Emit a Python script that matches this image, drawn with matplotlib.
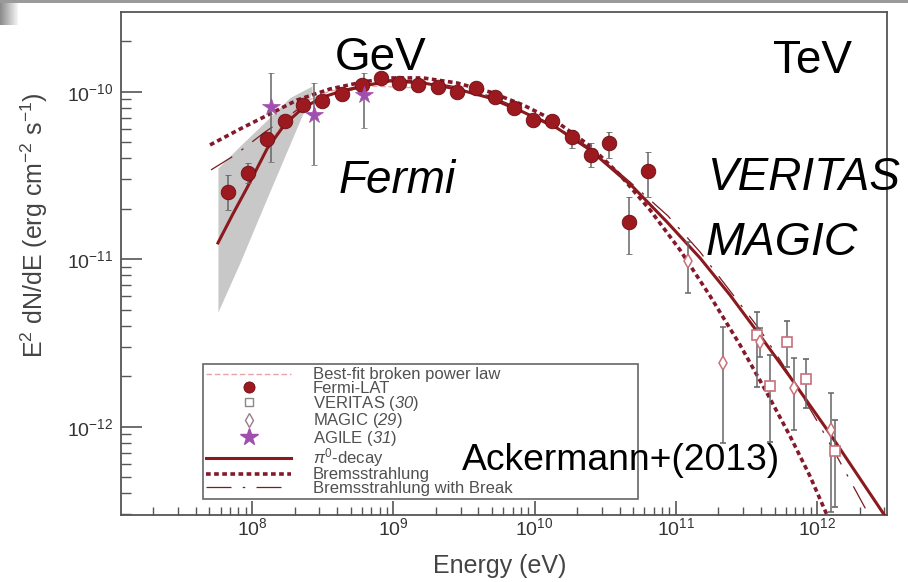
import numpy as np
import matplotlib
matplotlib.use("Agg")
import matplotlib.pyplot as plt
from matplotlib.lines import Line2D
from matplotlib.patches import Rectangle
from matplotlib.ticker import LogLocator, NullFormatter

plt.rcParams['font.family'] = ['Liberation Sans', 'DejaVu Sans']
plt.rcParams['mathtext.fontset'] = 'custom'
plt.rcParams['mathtext.rm'] = 'Liberation Sans'
plt.rcParams['mathtext.it'] = 'Liberation Sans:italic'
# \mathsf is used for the italic reference numbers in the legend
plt.rcParams['mathtext.sf'] = 'Liberation Sans:italic'

# Fermi-LAT spectral points (E in eV, E^2 dN/dE in erg cm^-2 s^-1)
fermi_e = [6.79e7, 9.42e7, 1.27e8, 1.71e8, 2.31e8, 3.15e8, 4.32e8, 5.98e8, 8.15e8,
           1.10e9, 1.50e9, 2.06e9, 2.81e9, 3.83e9, 5.25e9, 7.16e9, 9.71e9,
           1.34e10, 1.83e10, 2.51e10, 3.37e10, 4.69e10, 6.40e10]
fermi_f = [2.51e-11, 3.26e-11, 5.20e-11, 6.71e-11, 8.33e-11, 8.80e-11, 9.69e-11, 1.10e-10, 1.20e-10,
           1.12e-10, 1.10e-10, 1.07e-10, 1.00e-10, 1.05e-10, 9.26e-11, 7.96e-11, 6.78e-11,
           6.68e-11, 5.34e-11, 4.19e-11, 4.92e-11, 1.67e-11, 3.36e-11]
fermi_lo = [1.97e-11, 2.85e-11, 4.95e-11, 6.40e-11, 7.95e-11, 8.45e-11, 9.35e-11, 1.06e-10, 1.16e-10,
            1.08e-10, 1.06e-10, 1.03e-10, 9.60e-11, 1.00e-10, 8.80e-11, 7.50e-11, 6.30e-11,
            6.20e-11, 4.61e-11, 3.55e-11, 4.00e-11, 1.08e-11, 2.36e-11]
fermi_hi = [3.18e-11, 3.74e-11, 5.45e-11, 7.02e-11, 8.70e-11, 9.15e-11, 1.00e-10, 1.14e-10, 1.24e-10,
            1.16e-10, 1.14e-10, 1.11e-10, 1.04e-10, 1.10e-10, 9.70e-11, 8.40e-11, 7.30e-11,
            7.20e-11, 5.90e-11, 4.93e-11, 5.73e-11, 2.36e-11, 4.35e-11]

# AGILE
agile_e = [1.36e8, 2.75e8, 6.21e8]
agile_f = [8.07e-11, 7.26e-11, 9.55e-11]
agile_lo = [3.82e-11, 3.65e-11, 6.10e-11]
agile_hi = [1.29e-10, 1.12e-10, 1.30e-10]

# VERITAS
veritas_e = [3.73e11, 4.65e11, 6.10e11, 8.32e11, 1.35e12]
veritas_f = [3.52e-12, 1.75e-12, 3.21e-12, 1.92e-12, 7.19e-13]
veritas_lo = [1.73e-12, 8.13e-13, 2.28e-12, 1.29e-12, 3.33e-13]
veritas_hi = [4.82e-12, 2.68e-12, 4.30e-12, 2.54e-12, 1.10e-12]

# MAGIC
magic_e = [1.23e11, 2.17e11, 3.92e11, 6.90e11, 1.26e12]
magic_f = [9.82e-12, 2.39e-12, 3.21e-12, 1.71e-12, 9.55e-13]
magic_lo = [6.31e-12, 7.96e-13, 2.60e-12, 9.55e-13, 3.10e-13]
magic_hi = [1.26e-11, 3.95e-12, 3.90e-12, 2.56e-12, 1.58e-12]

# model curves, log10(E / eV) and log10(E^2 dN/dE)
pi0_loge = [7.759, 7.865, 7.972, 8.106, 8.234, 8.361, 8.503, 8.637, 8.786, 8.977, 9.211,
            9.451, 9.685, 9.918, 10.159, 10.393, 10.697, 10.938, 11.172, 11.384, 11.568,
            11.809, 12.092, 12.467, 12.496]
pi0_logf = [-10.903, -10.730, -10.563, -10.342, -10.193, -10.097, -10.032, -9.996, -9.966,
            -9.936, -9.948, -9.984, -10.038, -10.121, -10.217, -10.348, -10.569, -10.778,
            -10.993, -11.214, -11.423, -11.703, -12.043, -12.515, -12.552]

brems_loge = [7.703, 7.915, 8.127, 8.319, 8.552, 8.786, 8.977, 9.211, 9.451, 9.685, 9.918,
              10.159, 10.393, 10.605, 10.818, 11.030, 11.243, 11.455, 11.646, 11.809, 11.950,
              12.071, 12.106]
brems_logf = [-10.318, -10.223, -10.133, -10.050, -9.984, -9.942, -9.918, -9.918, -9.948,
              -10.002, -10.079, -10.181, -10.324, -10.497, -10.706, -10.945, -11.220, -11.512,
              -11.799, -12.056, -12.295, -12.528, -12.619]

brk_loge = [7.710, 7.880, 8.092, 8.361, 8.623, 8.977, 9.211, 9.451, 9.685, 9.918, 10.159,
            10.393, 10.676, 10.945, 11.172, 11.455, 11.597, 11.738, 11.880, 12.021, 12.163,
            12.283, 12.375]
brk_logf = [-10.467, -10.378, -10.241, -10.085, -10.008, -9.930, -9.936, -9.972, -10.026,
            -10.109, -10.211, -10.336, -10.539, -10.742, -10.957, -11.267, -11.423, -11.601,
            -11.793, -11.996, -12.211, -12.396, -12.539]

bpl_loge = [7.773, 7.986, 8.163, 8.340, 8.552, 8.835, 9.189]
bpl_logf = [-10.885, -10.527, -10.253, -10.073, -9.996, -9.966, -9.978]

# uncertainty band of the low-energy fit
band_loge = [7.759, 7.915, 8.092, 8.269, 8.425]
band_up = [-10.456, -10.324, -10.181, -10.035, -9.966]
band_dn = [-11.315, -11.020, -10.664, -10.312, -10.002]

x_ticks = [1e8, 1e9, 1e10, 1e11, 1e12]
y_ticks = [1e-12, 1e-11, 1e-10]

fermi_color = '#9c1a1f'
fermi_edge = '#6a0e12'
pi0_color = '#8b1a1f'
brems_color = '#85192c'
brk_color = '#7a1a22'
bpl_color = '#e9a3ab'
vhe_color = '#c9707a'
agile_color = '#a04fae'
err_color = '#666666'


def pw(v):
    return 10.0 ** np.asarray(v)


fig = plt.figure(figsize=(9.08, 5.82), dpi=100)
ax = fig.add_axes([0.1329, 0.1151, 0.8440, 0.8643])
ax.set_xscale('log')
ax.set_yscale('log')
ax.set_xlim(1.176e7, 3.13e12)
ax.set_ylim(2.97e-13, 2.99e-10)

ax.fill_between(pw(band_loge), pw(band_dn), pw(band_up), color='#c8c8c8', lw=0, zorder=1)

ax.plot(pw(bpl_loge), pw(bpl_logf), color=bpl_color, lw=1.0, ls=(0, (4, 2)), zorder=2)
ax.plot(pw(brk_loge), pw(brk_logf), color=brk_color, lw=0.9, ls=(0, (20, 9, 2, 9)), zorder=2)
ax.plot(pw(brems_loge), pw(brems_logf), color=brems_color, lw=2.6, ls=(0, (1.3, 0.95)),
        dash_capstyle='butt', zorder=3)
ax.plot(pw(pi0_loge), pw(pi0_logf), color=pi0_color, lw=2.2, zorder=3)


def draw_points(e, f, lo, hi, **kw):
    f = np.asarray(f)
    yerr = [f - np.asarray(lo), np.asarray(hi) - f]
    ax.errorbar(e, f, yerr=yerr, ls='none', ecolor=err_color, elinewidth=1.1,
                capsize=2.5, capthick=1.0, zorder=4, **kw)


draw_points(fermi_e, fermi_f, fermi_lo, fermi_hi, marker='o', ms=10.5,
            mfc=fermi_color, mec=fermi_edge, mew=0.6)
draw_points(veritas_e, veritas_f, veritas_lo, veritas_hi, marker='s', ms=7,
            mfc='white', mec=vhe_color, mew=1.2)
draw_points(magic_e, magic_f, magic_lo, magic_hi, marker='d', ms=7,
            mfc='white', mec=vhe_color, mew=1.1)
draw_points(agile_e, agile_f, agile_lo, agile_hi, marker='*', ms=13,
            mfc=agile_color, mec=agile_color, mew=0.5)

# axes styling
for sp in ax.spines.values():
    sp.set_color('#555555')
    sp.set_linewidth(1.3)
ax.set_xticks(x_ticks)
ax.set_yticks(y_ticks)
ax.xaxis.set_minor_locator(LogLocator(base=10, subs=np.arange(2, 10), numticks=40))
ax.yaxis.set_minor_locator(LogLocator(base=10, subs=np.arange(2, 10), numticks=40))
ax.xaxis.set_minor_formatter(NullFormatter())
ax.yaxis.set_minor_formatter(NullFormatter())
ax.tick_params(which='both', direction='in', top=False, right=False, color='#555555',
               labelcolor='#333333', labelsize=14)
ax.tick_params(axis='y', which='major', length=15, width=1.2, pad=5.5)
ax.tick_params(axis='y', which='minor', length=7, width=1.0)
ax.tick_params(axis='x', which='major', length=10, width=1.2, pad=1.5)
ax.tick_params(axis='x', which='minor', length=5.5, width=1.0)

ax.set_xlabel('Energy (eV)', fontsize=18, color='#444444')
ax.xaxis.set_label_coords(0.495, -0.078)
ax.set_ylabel('E$^2$ dN/dE (erg cm$^{-2}$ s$^{-1}$)', fontsize=18, color='#444444')
ax.yaxis.set_label_coords(-0.092, 0.577)

handles = [
    Line2D([], [], color=bpl_color, lw=1.0, ls=(0, (4, 2))),
    Line2D([], [], ls='none', marker='o', ms=8, mfc=fermi_color, mec=fermi_edge, mew=0.6),
    Line2D([], [], ls='none', marker='s', ms=6, mfc='white', mec='#888888', mew=1.0),
    Line2D([], [], ls='none', marker='d', ms=7, mfc='white', mec='#9a7a8a', mew=1.0),
    Line2D([], [], ls='none', marker='*', ms=13, mfc=agile_color, mec=agile_color),
    Line2D([], [], color=pi0_color, lw=2.2),
    Line2D([], [], color=brems_color, lw=2.6, ls=(0, (1.3, 0.95)), dash_capstyle='butt'),
    Line2D([], [], color=brk_color, lw=0.9, ls=(0, (20, 9, 2, 9))),
]
labels = [
    'Best-fit broken power law',
    'Fermi-LAT',
    r'VERITAS ($\mathsf{30}$)',
    r'MAGIC ($\mathsf{29}$)',
    r'AGILE ($\mathsf{31}$)',
    r'$\pi^0$-decay',
    'Bremsstrahlung',
    'Bremsstrahlung with Break',
]
leg = ax.legend(handles, labels, loc='lower left', mode='expand',
                bbox_to_anchor=(0.1074, 0.0318, 0.5676, 0.2724), borderaxespad=0,
                fontsize=12, labelcolor='#505050', borderpad=0.2, labelspacing=-0.1,
                handlelength=5.1, handletextpad=1.3, numpoints=1, fancybox=False,
                framealpha=1, edgecolor='#666666')
leg.get_frame().set_linewidth(1.2)
leg.set_zorder(10)

# slide annotations
W, H = 908.0, 582.0
fig.text(335 / W, 1 - 70 / H, 'GeV', fontsize=33, va='baseline')
fig.text(773 / W, 1 - 73 / H, 'TeV', fontsize=33, va='baseline')
fig.text(339 / W, 1 - 193 / H, 'Fermi', fontsize=33, style='italic', va='baseline')
fig.text(707 / W, 1 - 190 / H, 'VERITAS', fontsize=33, style='italic', va='baseline')
fig.text(706 / W, 1 - 255 / H, 'MAGIC', fontsize=33.5, style='italic', va='baseline')
fig.text(462 / W, 1 - 470 / H, 'Ackermann+(2013)', fontsize=26.8, va='baseline', zorder=20)

# window edge at the top of the screen grab
fig.add_artist(Rectangle((0, 1 - 3 / H), 1, 3 / H, transform=fig.transFigure,
                         color='#9a9a9a', lw=0))
grad = np.tile(np.linspace(0.55, 0.95, 18), (22, 1))
fig.figimage(grad, xo=0, yo=int(H) - 25, cmap='gray', vmin=0, vmax=1, zorder=5)

fig.savefig('out.png', dpi=100)
